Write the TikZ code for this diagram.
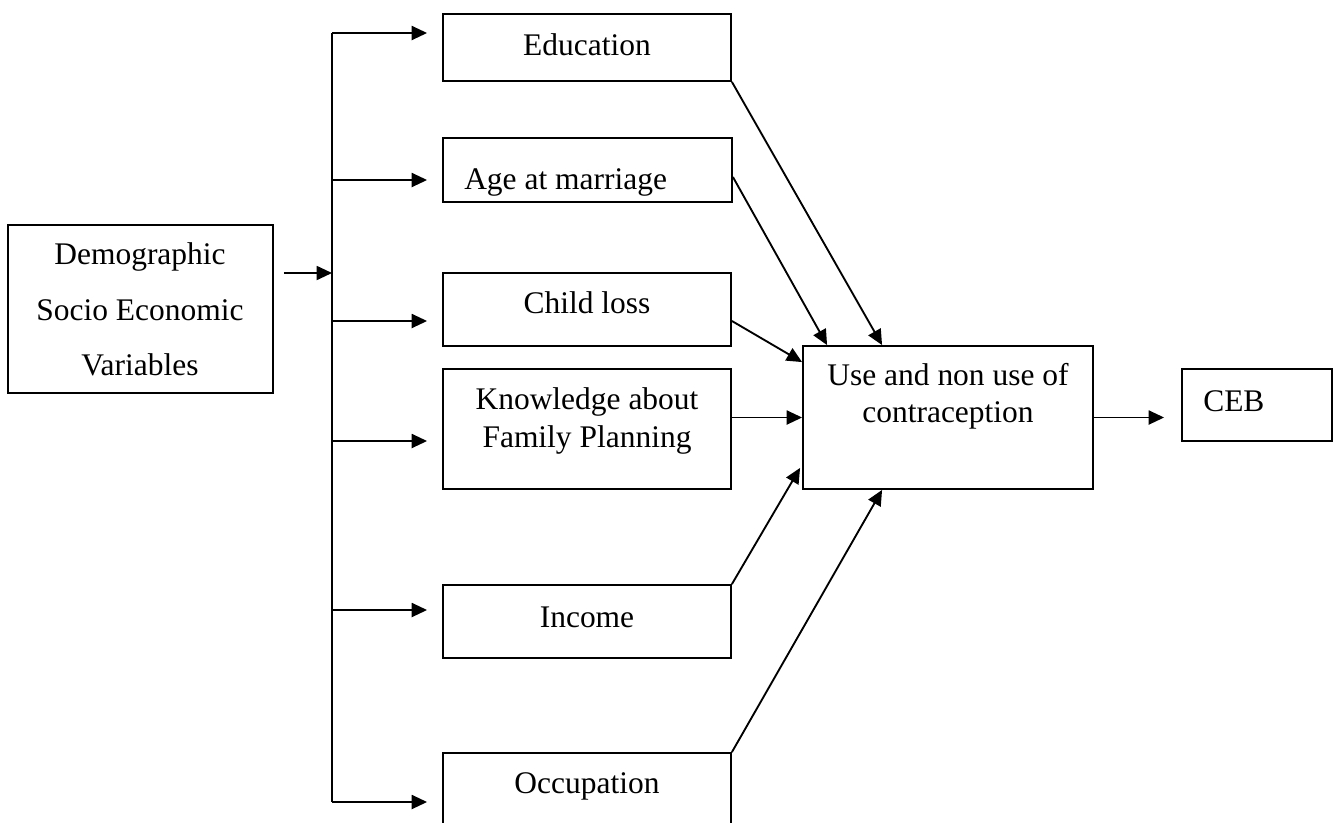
\documentclass[tikz,border=0pt]{standalone}
\usepackage{fontspec}
\setmainfont{Liberation Serif}
\usetikzlibrary{arrows.meta,calc}
\tikzset{
  box/.style={draw, line width=1.4pt, inner sep=0pt},
  conn/.style={line width=1.4pt},
  arr/.style={line width=1.4pt, -{Triangle[length=11.5pt,width=10.5pt]}},
  txt/.style={anchor=base, inner sep=0pt, font=\fontsize{23.6}{28}\selectfont},
  txtl/.style={txt, anchor=base west}
}
\begin{document}
\begin{tikzpicture}[x=0.75pt,y=-0.75pt]
\clip (0,0) rectangle (1336,822);
\fill[white] (0,0) rectangle (1336,822);
% boxes
\node[box, minimum width=265*0.75pt, minimum height=168*0.75pt] (demo) at (140.5,309) {};
\node[box, minimum width=288*0.75pt, minimum height=67*0.75pt] (edu) at (587,47.5) {};
\node[box, minimum width=289*0.75pt, minimum height=64*0.75pt] (age) at (587.5,170) {};
\node[box, minimum width=288*0.75pt, minimum height=73*0.75pt] (child) at (587,309.5) {};
\node[box, minimum width=288*0.75pt, minimum height=120*0.75pt] (know) at (587,429) {};
\node[box, minimum width=288*0.75pt, minimum height=73*0.75pt] (income) at (587,621.5) {};
\node[box, minimum width=288*0.75pt, minimum height=77*0.75pt] (occ) at (587,791.5) {};
\node[box, minimum width=290*0.75pt, minimum height=143*0.75pt] (use) at (948,417.5) {};
\node[box, minimum width=150*0.75pt, minimum height=72*0.75pt] (ceb) at (1257,405) {};
% texts
\node[txt] (demo1) at (140,264) {Demographic};
\node[txt] (demo2) at (140,320) {Socio Economic};
\node[txt] (demo3) at (140,375) {Variables};
\node[txt] (edut) at (587,55) {Education};
\node[txtl] (aget) at (464,189) {Age at marriage};
\node[txt] (childt) at (587,313) {Child loss};
\node[txt] (know1) at (587,409) {Knowledge about};
\node[txt] (know2) at (587,447) {Family Planning};
\node[txt] (incomet) at (587,627) {Income};
\node[txt] (occt) at (587,793) {Occupation};
\node[txt] (use1) at (948,385) {Use and non use of};
\node[txt] (use2) at (948,422) {contraception};
\node[txtl] (cebt) at (1203,411) {CEB};
% bus
\coordinate (j0) at (332,273);
\coordinate (b1) at (332,33);
\coordinate (b2) at (332,180);
\coordinate (b3) at (332,321);
\coordinate (b4) at (332,441);
\coordinate (b5) at (332,610);
\coordinate (b6) at (332,802);
\draw[arr] ([xshift=7.5pt]demo.east |- j0) -- (j0);
\draw[conn] (b1) -- (b6);
\draw[arr] (b1) -- ([xshift=-11.25pt]edu.west |- b1);
\draw[arr] (b2) -- ([xshift=-11.25pt]age.west |- b2);
\draw[arr] (b3) -- ([xshift=-11.25pt]child.west |- b3);
\draw[arr] (b4) -- ([xshift=-11.25pt]know.west |- b4);
\draw[arr] (b5) -- ([xshift=-11.25pt]income.west |- b5);
\draw[arr] (b6) -- ([xshift=-11.25pt]occ.west |- b6);
% into use
\draw[arr] (edu.south east) -- ($(use.north west)+(80,0)$);
\draw[arr] ($(age.east)+(0,7)$) -- ($(use.north west)+(25,0)$);
\draw[arr] ($(child.east)+(0,11.5)$) -- ($(use.north west)+(0,17)$);
\draw[arr] (know.east |- use.west) -- (use.west);
\draw[arr] (income.north east) -- ($(use.south west)+(-2,-22)$);
\draw[arr] (occ.north east) -- ($(use.south west)+(80,0)$);
\draw[arr] (use.east) -- ([xshift=-12.75pt]ceb.west |- use.east);
\end{tikzpicture}
\end{document}
